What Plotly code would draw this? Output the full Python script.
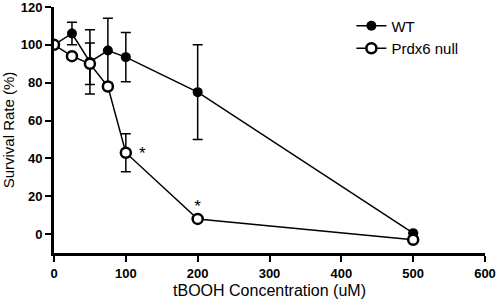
import plotly.graph_objects as go

conc = [0, 25, 50, 75, 100, 200, 500]
wt = [100, 106, 91, 97, 93.5, 75, 0.5]
wt_err = [0, 6, 17, 17, 13, 25, 0]
ko = [100, 94, 90, 78, 43, 8, -3]
ko_err = [0, 0, 11, 0, 10, 0, 0]
star_x = [123, 200]
star_y = [42, 14]

fig = go.Figure()
fig.add_trace(go.Scatter(
    x=conc, y=wt, name="WT", mode="lines+markers",
    line=dict(color="black", width=1.5),
    marker=dict(symbol="circle", size=10, color="black"),
    error_y=dict(type="data", array=wt_err, color="black", thickness=1.5, width=5),
))
fig.add_trace(go.Scatter(
    x=conc, y=ko, name="Prdx6 null", mode="lines+markers",
    line=dict(color="black", width=1.5),
    marker=dict(symbol="circle", size=10, color="white", line=dict(color="black", width=2.5)),
    error_y=dict(type="data", array=ko_err, color="black", thickness=1.5, width=5),
))
fig.add_trace(go.Scatter(
    x=star_x, y=star_y, mode="text", text=["*", "*"], showlegend=False,
    textfont=dict(family="Liberation Sans", size=17, color="black"),
    hoverinfo="skip",
))

fig.update_layout(
    width=496, height=299,
    margin=dict(l=54, r=11, t=7, b=46),
    paper_bgcolor="white", plot_bgcolor="white",
    font=dict(family="Liberation Sans", color="black"),
    legend=dict(x=0.69, y=0.99, xanchor="left", yanchor="top",
                font=dict(size=15, family="Liberation Sans"),
                bgcolor="rgba(0,0,0,0)", itemwidth=30),
    showlegend=True,
)
fig.update_xaxes(
    range=[0, 600], tickvals=[0, 100, 200, 300, 400, 500, 600],
    showline=True, linecolor="black", linewidth=3, showgrid=False, zeroline=False,
    ticks="outside", ticklen=6, tickwidth=2, tickcolor="black", automargin=False,
    ticklabeloverflow="allow",
    tickfont=dict(size=13, family="Liberation Sans", weight="bold"),
    title=dict(text="tBOOH Concentration (uM)", font=dict(size=16), standoff=6),
)
fig.update_yaxes(
    range=[-10, 120], tickvals=[0, 20, 40, 60, 80, 100, 120],
    showline=True, linecolor="black", linewidth=3, showgrid=False, zeroline=False,
    ticks="outside", ticklen=6, tickwidth=2, tickcolor="black", automargin=False,
    ticklabeloverflow="allow",
    tickfont=dict(size=13, family="Liberation Sans", weight="bold"),
    title=dict(text="Survival Rate (%)", font=dict(size=15), standoff=6),
)
fig.write_html("out.html", config={"displayModeBar": False},
               post_script="document.body.style.margin='0';")
